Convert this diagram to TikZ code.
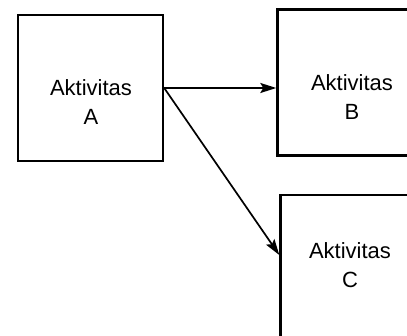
\documentclass[tikz,border=0pt]{standalone}
\usepackage{fontspec}
\setmainfont{Liberation Sans}
\usetikzlibrary{arrows.meta}
\begin{document}
\begin{tikzpicture}[x=1pt,y=-1pt,
  actbox/.style={draw=black, line width=2.4pt, fill=white, inner sep=0pt,
    minimum width=145pt, minimum height=146pt},
  acttext/.style={align=center, inner sep=0pt, font=\fontsize{22}{29}\selectfont},
  conn/.style={line width=1.7pt, -{Stealth[length=16pt,width=10pt,inset=3pt]}}]
\useasboundingbox (0,0) rectangle (407,336);
\clip (0,0) rectangle (407,336);
\node[actbox] (A) at (90.5,88) {};
\node[actbox] (B) at (350,82.5) {};
\node[actbox] (C) at (353,268) {};
\node[acttext] (tA) at (91,102) {Aktivitas\\A};
\node[acttext] (tB) at (352,97) {Aktivitas\\B};
\node[acttext] (tC) at (350,265) {Aktivitas\\C};
\coordinate (s) at (A.east);
\draw[conn] (s) -- (B.west |- s);
\draw[conn] (s) -- (C.west |- 0,255);
\end{tikzpicture}
\end{document}
